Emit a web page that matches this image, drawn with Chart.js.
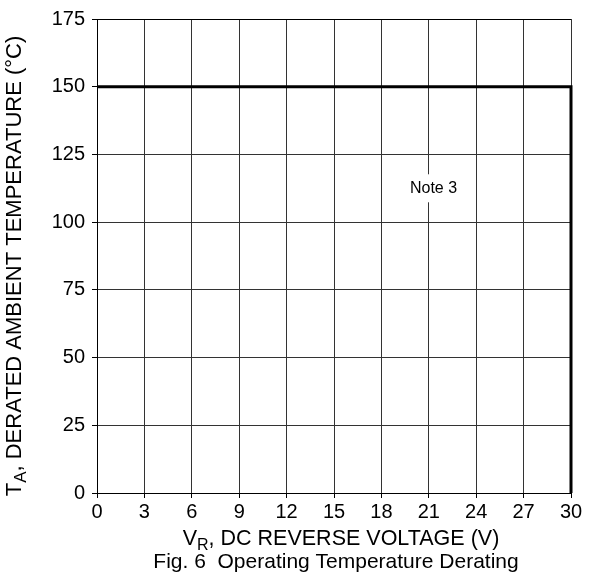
<!DOCTYPE html>
<html>
<head>
<meta charset="utf-8">
<script src="https://cdn.jsdelivr.net/npm/chart.js@4"></script>
<style>
    html, body { margin: 0; padding: 0; background: #fff; }
    #wrap { width: 593px; height: 579px; }
</style>
</head>
<body>
<div id="wrap"><canvas id="chart" width="593" height="579"></canvas></div>
<script>
// Derating curve: T_A vs V_R
const voltage = [0, 30, 30];
const temperature = [150, 150, 0];

const xTicks = [0, 3, 6, 9, 12, 15, 18, 21, 24, 27, 30];
const yTicks = [0, 25, 50, 75, 100, 125, 150, 175];

const noteText = "Note 3";
const noteAt = [21.3, 112.5];

const FONT = "'Liberation Sans', Arial, sans-serif";

// draws "main" + subscript + rest, centred at (cx, y)
function drawSubText(ctx, cx, y, main, sub, rest, size) {
    ctx.font = size + "px " + FONT;
    const w1 = ctx.measureText(main).width;
    const w3 = ctx.measureText(rest).width;
    ctx.font = Math.round(size * 0.75) + "px " + FONT;
    const w2 = ctx.measureText(sub).width;
    let x = cx - (w1 + w2 + w3) / 2;
    ctx.textAlign = "left";
    ctx.textBaseline = "alphabetic";
    ctx.font = size + "px " + FONT;
    ctx.fillText(main, x, y);
    x += w1;
    ctx.font = Math.round(size * 0.75) + "px " + FONT;
    ctx.fillText(sub, x, y + 5);
    x += w2;
    ctx.font = size + "px " + FONT;
    ctx.fillText(rest, x, y);
}

const labelsPlugin = {
    id: "labels",
    afterDraw(chart) {
        const ctx = chart.ctx;
        const xs = chart.scales.x, ys = chart.scales.y;
        ctx.save();
        ctx.fillStyle = "#000";

        // note box
        const nx = xs.getPixelForValue(noteAt[0]);
        const ny = ys.getPixelForValue(noteAt[1]);
        ctx.font = "16px " + FONT;
        const nw = ctx.measureText(noteText).width;
        ctx.fillStyle = "#fff";
        ctx.fillRect(nx - nw / 2 - 4, ny - 14, nw + 8, 28);
        ctx.fillStyle = "#000";
        ctx.textAlign = "center";
        ctx.textBaseline = "middle";
        ctx.fillText(noteText, nx, ny);

        // x title and caption
        drawSubText(ctx, 341, 545, "V", "R", ", DC REVERSE VOLTAGE (V)", 21.5);
        ctx.font = "21px " + FONT;
        ctx.textAlign = "center";
        ctx.textBaseline = "alphabetic";
        ctx.fillText("Fig. 6  Operating Temperature Derating", 336, 568);

        // y title
        ctx.translate(21, 266);
        ctx.rotate(-Math.PI / 2);
        drawSubText(ctx, 0, 0, "T", "A", ", DERATED AMBIENT TEMPERATURE (°C)", 22);
        ctx.restore();
    }
};

new Chart(document.getElementById("chart").getContext("2d"), {
    type: "scatter",
    data: {
        datasets: [{
            data: voltage.map((v, i) => ({ x: v, y: temperature[i] })),
            showLine: true,
            borderColor: "#000",
            borderWidth: 3,
            pointRadius: 0,
            tension: 0,
            clip: false
        }]
    },
    options: {
        responsive: false,
        animation: false,
        layout: { padding: { left: 0, right: 22, top: 18, bottom: 0 } },
        plugins: { legend: { display: false }, tooltip: { enabled: false } },
        scales: {
            x: {
                type: "linear",
                min: 0,
                max: 30,
                afterBuildTicks: s => { s.ticks = xTicks.map(v => ({ value: v })); },
                afterFit: s => { s.height = 86; },
                ticks: { color: "#000", font: { family: FONT, size: 20 }, padding: 2, maxRotation: 0 },
                grid: { color: "#333", lineWidth: 1, tickLength: 5, tickColor: "#000" },
                border: { color: "#000", width: 1 }
            },
            y: {
                min: 0,
                max: 175,
                afterBuildTicks: s => { s.ticks = yTicks.map(v => ({ value: v })); },
                afterFit: s => { s.width = 97; },
                ticks: { color: "#000", font: { family: FONT, size: 20 }, padding: 7 },
                grid: {
                    color: c => c.tick && c.tick.value === 175 ? "#000" : "#333",
                    lineWidth: 1, tickLength: 5, tickColor: "#000"
                },
                border: { color: "#000", width: 1 }
            }
        }
    },
    plugins: [labelsPlugin]
});
</script>
</body>
</html>
